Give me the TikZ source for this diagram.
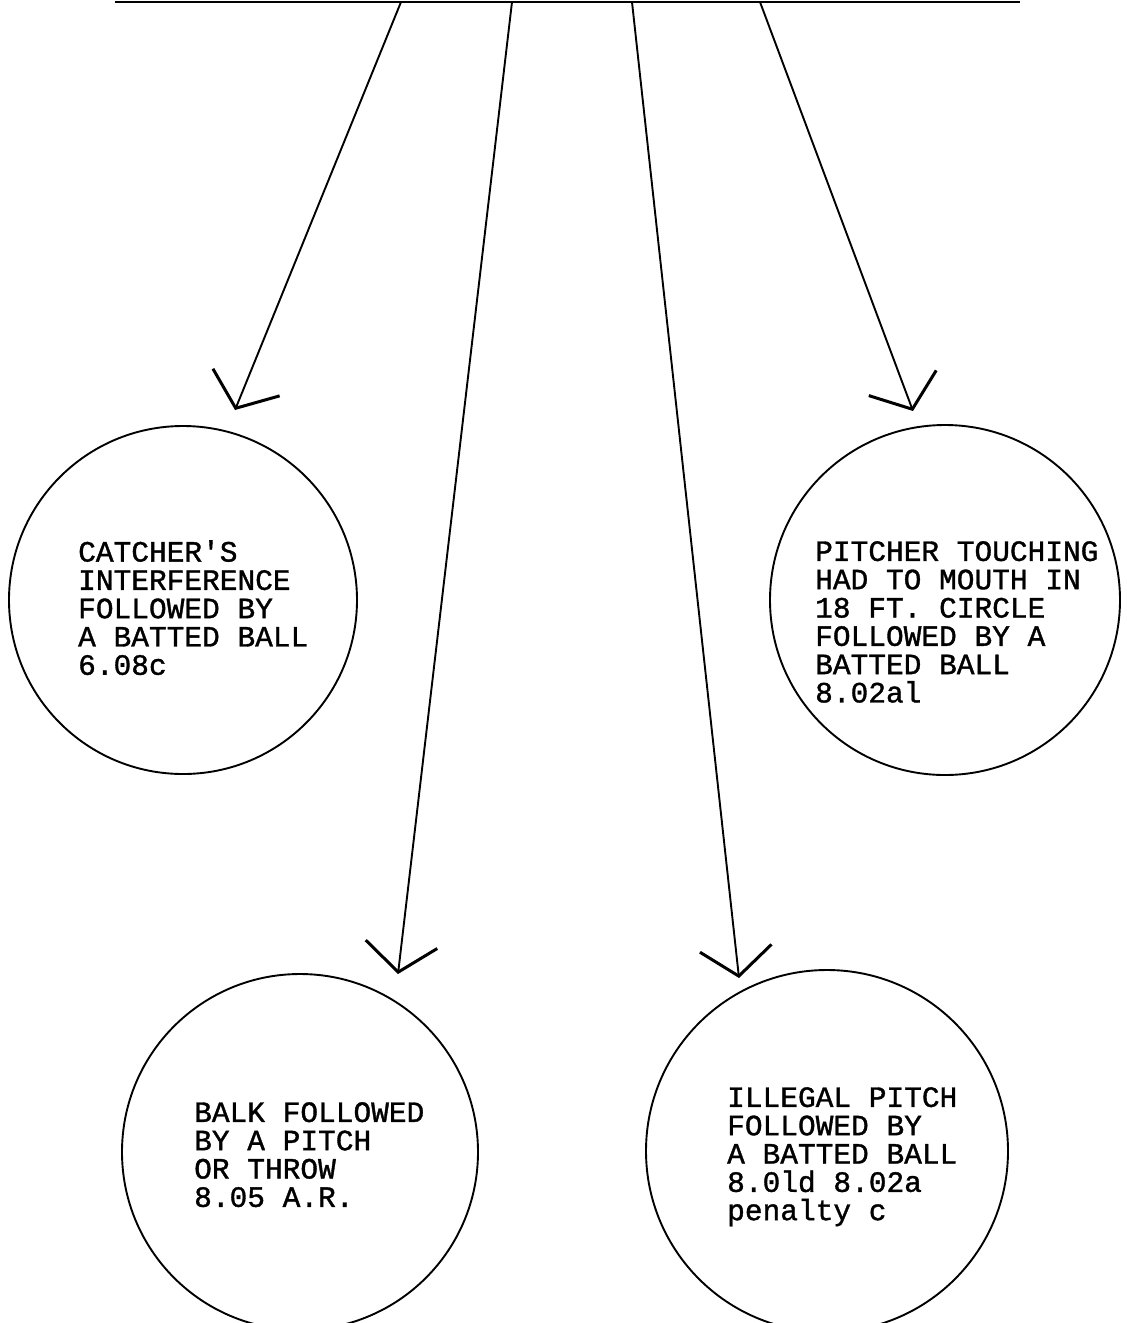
\documentclass[tikz,border=0pt]{standalone}
\usepackage{fontspec}
\newfontfamily\tw[FakeBold=1.2]{Liberation Mono}
\usetikzlibrary{arrows.meta}
\begin{document}
\begin{tikzpicture}[x=1pt,y=-1pt,
  bubble/.style={draw, circle, line width=1.9pt, inner sep=0pt},
  txt/.style={anchor=north west, inner sep=0pt, align=left,
    font=\tw\fontsize{29.5}{28.3}\selectfont},
  arr/.style={line width=1.9pt,
    -{Straight Barb[length=28pt,width=72pt,line width=3pt]}},
  bar/.style={line width=2pt}]
\useasboundingbox (0,0) rectangle (1127,1323);
% top bar and its start points
\coordinate (L) at (115,2);
\coordinate (R) at (1020,2);
\draw[bar] (L) -- (R);
\coordinate (s1) at (401,2);
\coordinate (s2) at (512,2);
\coordinate (s3) at (632,2);
\coordinate (s4) at (760,2);
% arrow tips
\coordinate (t1) at (235,410);
\coordinate (t2) at (398,974);
\coordinate (t3) at (739,978);
\coordinate (t4) at (913,411);
% circles
\node[bubble, minimum size=348pt] (c1) at (183,600) {};
\node[bubble, minimum size=350pt] (c4) at (945,600) {};
\node[bubble, minimum size=356pt] (c2) at (300,1152) {};
\node[bubble, minimum size=362pt] (c3) at (827,1151) {};
% texts
\node[txt] (l1) at (78,540) {CATCHER'S\\INTERFERENCE\\FOLLOWED BY\\A BATTED BALL\\6.08c};
\node[txt] (l4) at (815,541) {PITCHER TOUCHING\\HAD TO MOUTH IN\\18 FT. CIRCLE\\FOLLOWED BY A\\BATTED BALL\\8.02al};
\node[txt] (l2) at (194,1102) {BALK FOLLOWED\\BY A PITCH\\OR THROW\\8.05 A.R.};
\node[txt] (l3) at (727,1087) {ILLEGAL PITCH\\FOLLOWED BY\\A BATTED BALL\\8.0ld 8.02a\\penalty c};
% connectors
\draw[arr] (s1) -- (t1);
\draw[arr] (s2) -- (t2);
\draw[arr] (s3) -- (t3);
\draw[arr] (s4) -- (t4);
\end{tikzpicture}
\end{document}
